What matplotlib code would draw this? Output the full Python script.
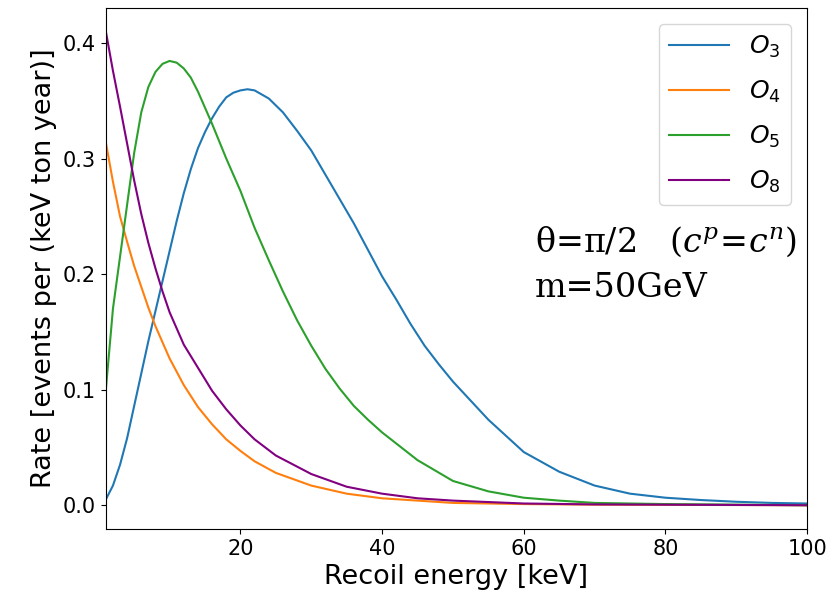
import matplotlib
matplotlib.use('Agg')
import matplotlib.pyplot as plt

# values (recoil energy in keV, rate)
x_o3 = [1, 2, 3, 4, 5, 6, 7, 8, 9, 10, 11, 12, 13, 14, 15, 16, 17, 18, 19, 20,
        21, 22, 24, 26, 28, 30, 32, 34, 36, 38, 40, 42, 44, 46, 48, 50, 55, 60,
        65, 70, 75, 80, 85, 90, 95, 100]
y_o3 = [0.005, 0.017, 0.035, 0.058, 0.086, 0.114, 0.142, 0.168, 0.194, 0.220,
        0.246, 0.270, 0.291, 0.309, 0.323, 0.335, 0.345, 0.353, 0.357, 0.359,
        0.360, 0.359, 0.352, 0.340, 0.324, 0.307, 0.286, 0.265, 0.244, 0.221,
        0.198, 0.178, 0.157, 0.138, 0.122, 0.107, 0.074, 0.046, 0.029, 0.017,
        0.010, 0.0065, 0.0045, 0.003, 0.002, 0.0015]

x_o4 = [1, 2, 3, 4, 5, 6, 7, 8, 10, 12, 14, 16, 18, 20, 22, 25, 30, 35, 40, 45,
        50, 60, 70, 100]
y_o4 = [0.314, 0.280, 0.250, 0.228, 0.207, 0.189, 0.171, 0.155, 0.127, 0.104,
        0.085, 0.070, 0.057, 0.047, 0.038, 0.028, 0.017, 0.010, 0.006, 0.004,
        0.002, 0.001, 0.0005, 0.0]

x_o5 = [1, 1.5, 2, 3, 4, 5, 6, 7, 8, 9, 10, 11, 12, 13, 14, 16, 18, 20, 22, 24,
        26, 28, 30, 32, 34, 36, 38, 40, 45, 50, 55, 60, 65, 70, 80, 100]
y_o5 = [0.10, 0.135, 0.17, 0.215, 0.26, 0.305, 0.34, 0.362, 0.375, 0.382, 0.3845,
        0.383, 0.378, 0.370, 0.358, 0.33, 0.30, 0.272, 0.24, 0.212, 0.185, 0.16,
        0.138, 0.118, 0.101, 0.086, 0.074, 0.063, 0.039, 0.021, 0.012, 0.0065,
        0.004, 0.002, 0.001, 0.0]

x_o8 = [1, 2, 3, 4, 5, 6, 7, 8, 9, 10, 12, 14, 16, 18, 20, 22, 25, 30, 35, 40,
        45, 50, 60, 70, 100]
y_o8 = [0.410, 0.376, 0.345, 0.313, 0.281, 0.252, 0.227, 0.205, 0.185, 0.167,
        0.139, 0.119, 0.099, 0.083, 0.069, 0.057, 0.043, 0.027, 0.016, 0.010,
        0.006, 0.004, 0.0015, 0.0007, 0.0]

fig, ax = plt.subplots(figsize=(8.27, 5.99), dpi=100)
fig.subplots_adjust(left=0.128, right=0.976, bottom=0.117, top=0.987)

ax.plot(x_o3, y_o3, color='#1f77b4', lw=1.5, label='$O_3$')
ax.plot(x_o4, y_o4, color='#ff7f0e', lw=1.5, label='$O_4$')
ax.plot(x_o5, y_o5, color='#2ca02c', lw=1.5, label='$O_5$')
ax.plot(x_o8, y_o8, color='purple', lw=1.5, label='$O_8$')

ax.set_xlim(1, 100)
ax.set_xlabel('Recoil energy [keV]', fontsize=19.5)
ax.set_ylabel('Rate [events per (keV ton year)]', fontsize=19.5)
ax.tick_params(labelsize=15)

ax.legend(loc='upper right', fontsize=18, handlelength=2.4,
          labelspacing=0.75, borderaxespad=0.65)

ax.text(61.6, 0.219, r'θ=π/2   $(c^p\!=\!c^n)$', fontsize=24,
        family='DejaVu Serif', math_fontfamily='dejavuserif', va='baseline')
ax.text(61.6, 0.180, 'm=50GeV', fontsize=24, family='DejaVu Serif',
        va='baseline')

plt.savefig('out.png')
